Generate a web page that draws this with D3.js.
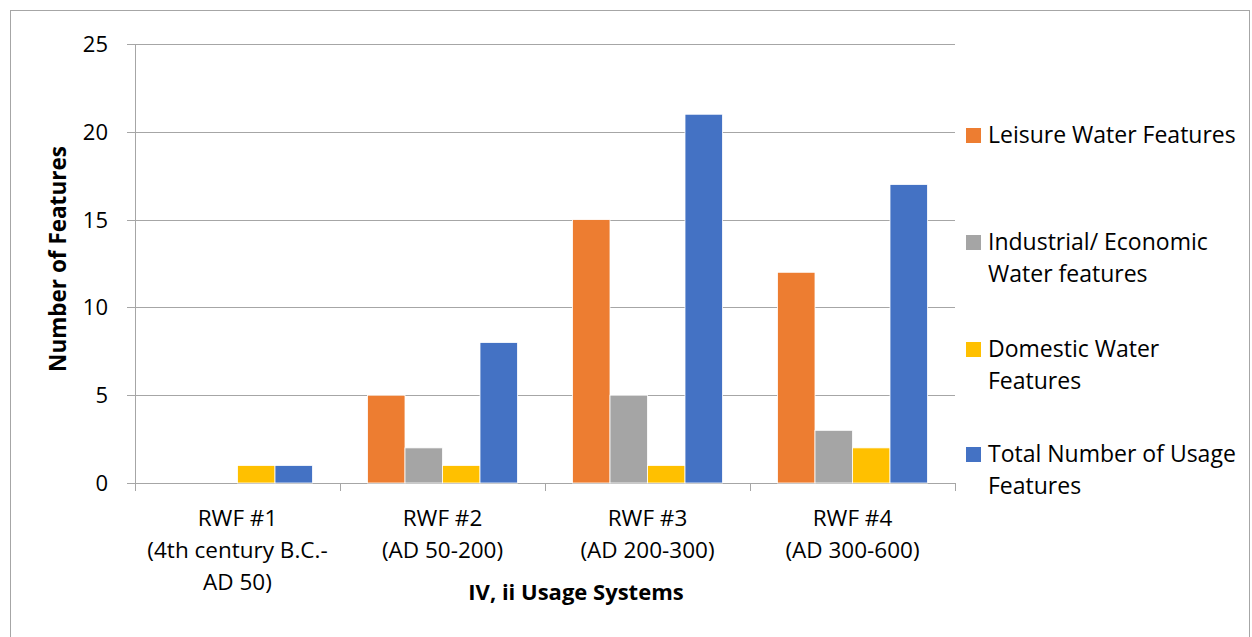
<!DOCTYPE html>
<html><head><meta charset="utf-8">
<script src="https://cdn.jsdelivr.net/npm/d3@7"></script>
<style>body{margin:0;background:#fff}svg{display:block}text{font-family:"Open Sans","Noto Sans",sans-serif;fill:#000}</style>
</head><body>
<script>
const categories = [["RWF #1","(4th century B.C.-","AD 50)"],["RWF #2","(AD 50-200)"],["RWF #3","(AD 200-300)"],["RWF #4","(AD 300-600)"]];
const seriesNames = [["Leisure Water Features"],["Industrial/ Economic","Water features"],["Domestic Water","Features"],["Total Number of Usage","Features"]];
const leisure = [0,5,15,12];
const industrial = [0,2,5,3];
const domestic = [1,1,1,2];
const total = [1,8,21,17];
const yTicks = [0,5,10,15,20,25];
const colors = ["#ED7D31","#A5A5A5","#FFC000","#4472C4"];
const series = [leisure, industrial, domestic, total];

const W=1252,H=637;
const svg=d3.select("body").append("svg").attr("width",W).attr("height",H);
svg.append("rect").attr("x",10.5).attr("y",10.5).attr("width",1239).attr("height",H).attr("fill","none").attr("stroke","#a6a6a6").attr("stroke-width",1);

const L=135,R=955,T=44,B=483;
const x0=d3.scaleBand().domain(d3.range(4)).range([L,R]).padding(0);
const x1=d3.scaleBand().domain(d3.range(4)).range([27.5,x0.bandwidth()-27.5]).padding(0);
const y=d3.scaleLinear().domain([0,25]).range([B,T]);

svg.append("g").selectAll("line").data(yTicks).join("line")
 .attr("x1",L-8).attr("x2",R).attr("y1",d=>Math.round(y(d))+0.5).attr("y2",d=>Math.round(y(d))+0.5)
 .attr("stroke","#a6a6a6").attr("stroke-width",1);
svg.append("line").attr("x1",L+0.5).attr("x2",L+0.5).attr("y1",T).attr("y2",B).attr("stroke","#a6a6a6");
svg.append("g").selectAll("text").data(yTicks).join("text")
 .attr("x",108).attr("y",d=>y(d)+8).attr("text-anchor","end").style("font-size","22px").text(d=>d);

const g=svg.append("g");
series.forEach((s,si)=>{
 g.selectAll(null).data(s).join("rect")
  .attr("x",(d,i)=>x0(i)+x1(si)).attr("width",x1.bandwidth())
  .attr("y",d=>y(d)).attr("height",d=>B-y(d))
  .attr("fill",colors[si]).attr("stroke","#fff").attr("stroke-width",0.8)
  .style("display",d=>d>0?null:"none");
});

svg.append("g").selectAll("line").data(d3.range(5)).join("line")
 .attr("x1",i=>Math.round(L+i*x0.bandwidth())+0.5).attr("x2",i=>Math.round(L+i*x0.bandwidth())+0.5)
 .attr("y1",B).attr("y2",B+8).attr("stroke","#a6a6a6");

categories.forEach((lines,i)=>{
 const t=svg.append("text").attr("text-anchor","middle").style("font-size","22.5px");
 lines.forEach((ln,k)=>t.append("tspan").attr("x",x0(i)+x0.bandwidth()/2).attr("y",526+k*32).text(ln));
});

svg.append("text").attr("x",576).attr("y",600).attr("text-anchor","middle").style("font-size","22px").style("font-weight","bold").text("IV, ii Usage Systems");
svg.append("text").attr("transform","translate(66,259) rotate(-90)").attr("text-anchor","middle").style("font-size","22.5px").style("font-weight","bold").text("Number of Features");

const legY=[143,250,357,462];
seriesNames.forEach((lines,i)=>{
 svg.append("rect").attr("x",966).attr("y",legY[i]-15).attr("width",15).attr("height",15).attr("fill",colors[i]);
 const t=svg.append("text").style("font-size","23px");
 lines.forEach((ln,k)=>t.append("tspan").attr("x",988).attr("y",legY[i]+k*32).text(ln));
});
</script>
</body></html>
